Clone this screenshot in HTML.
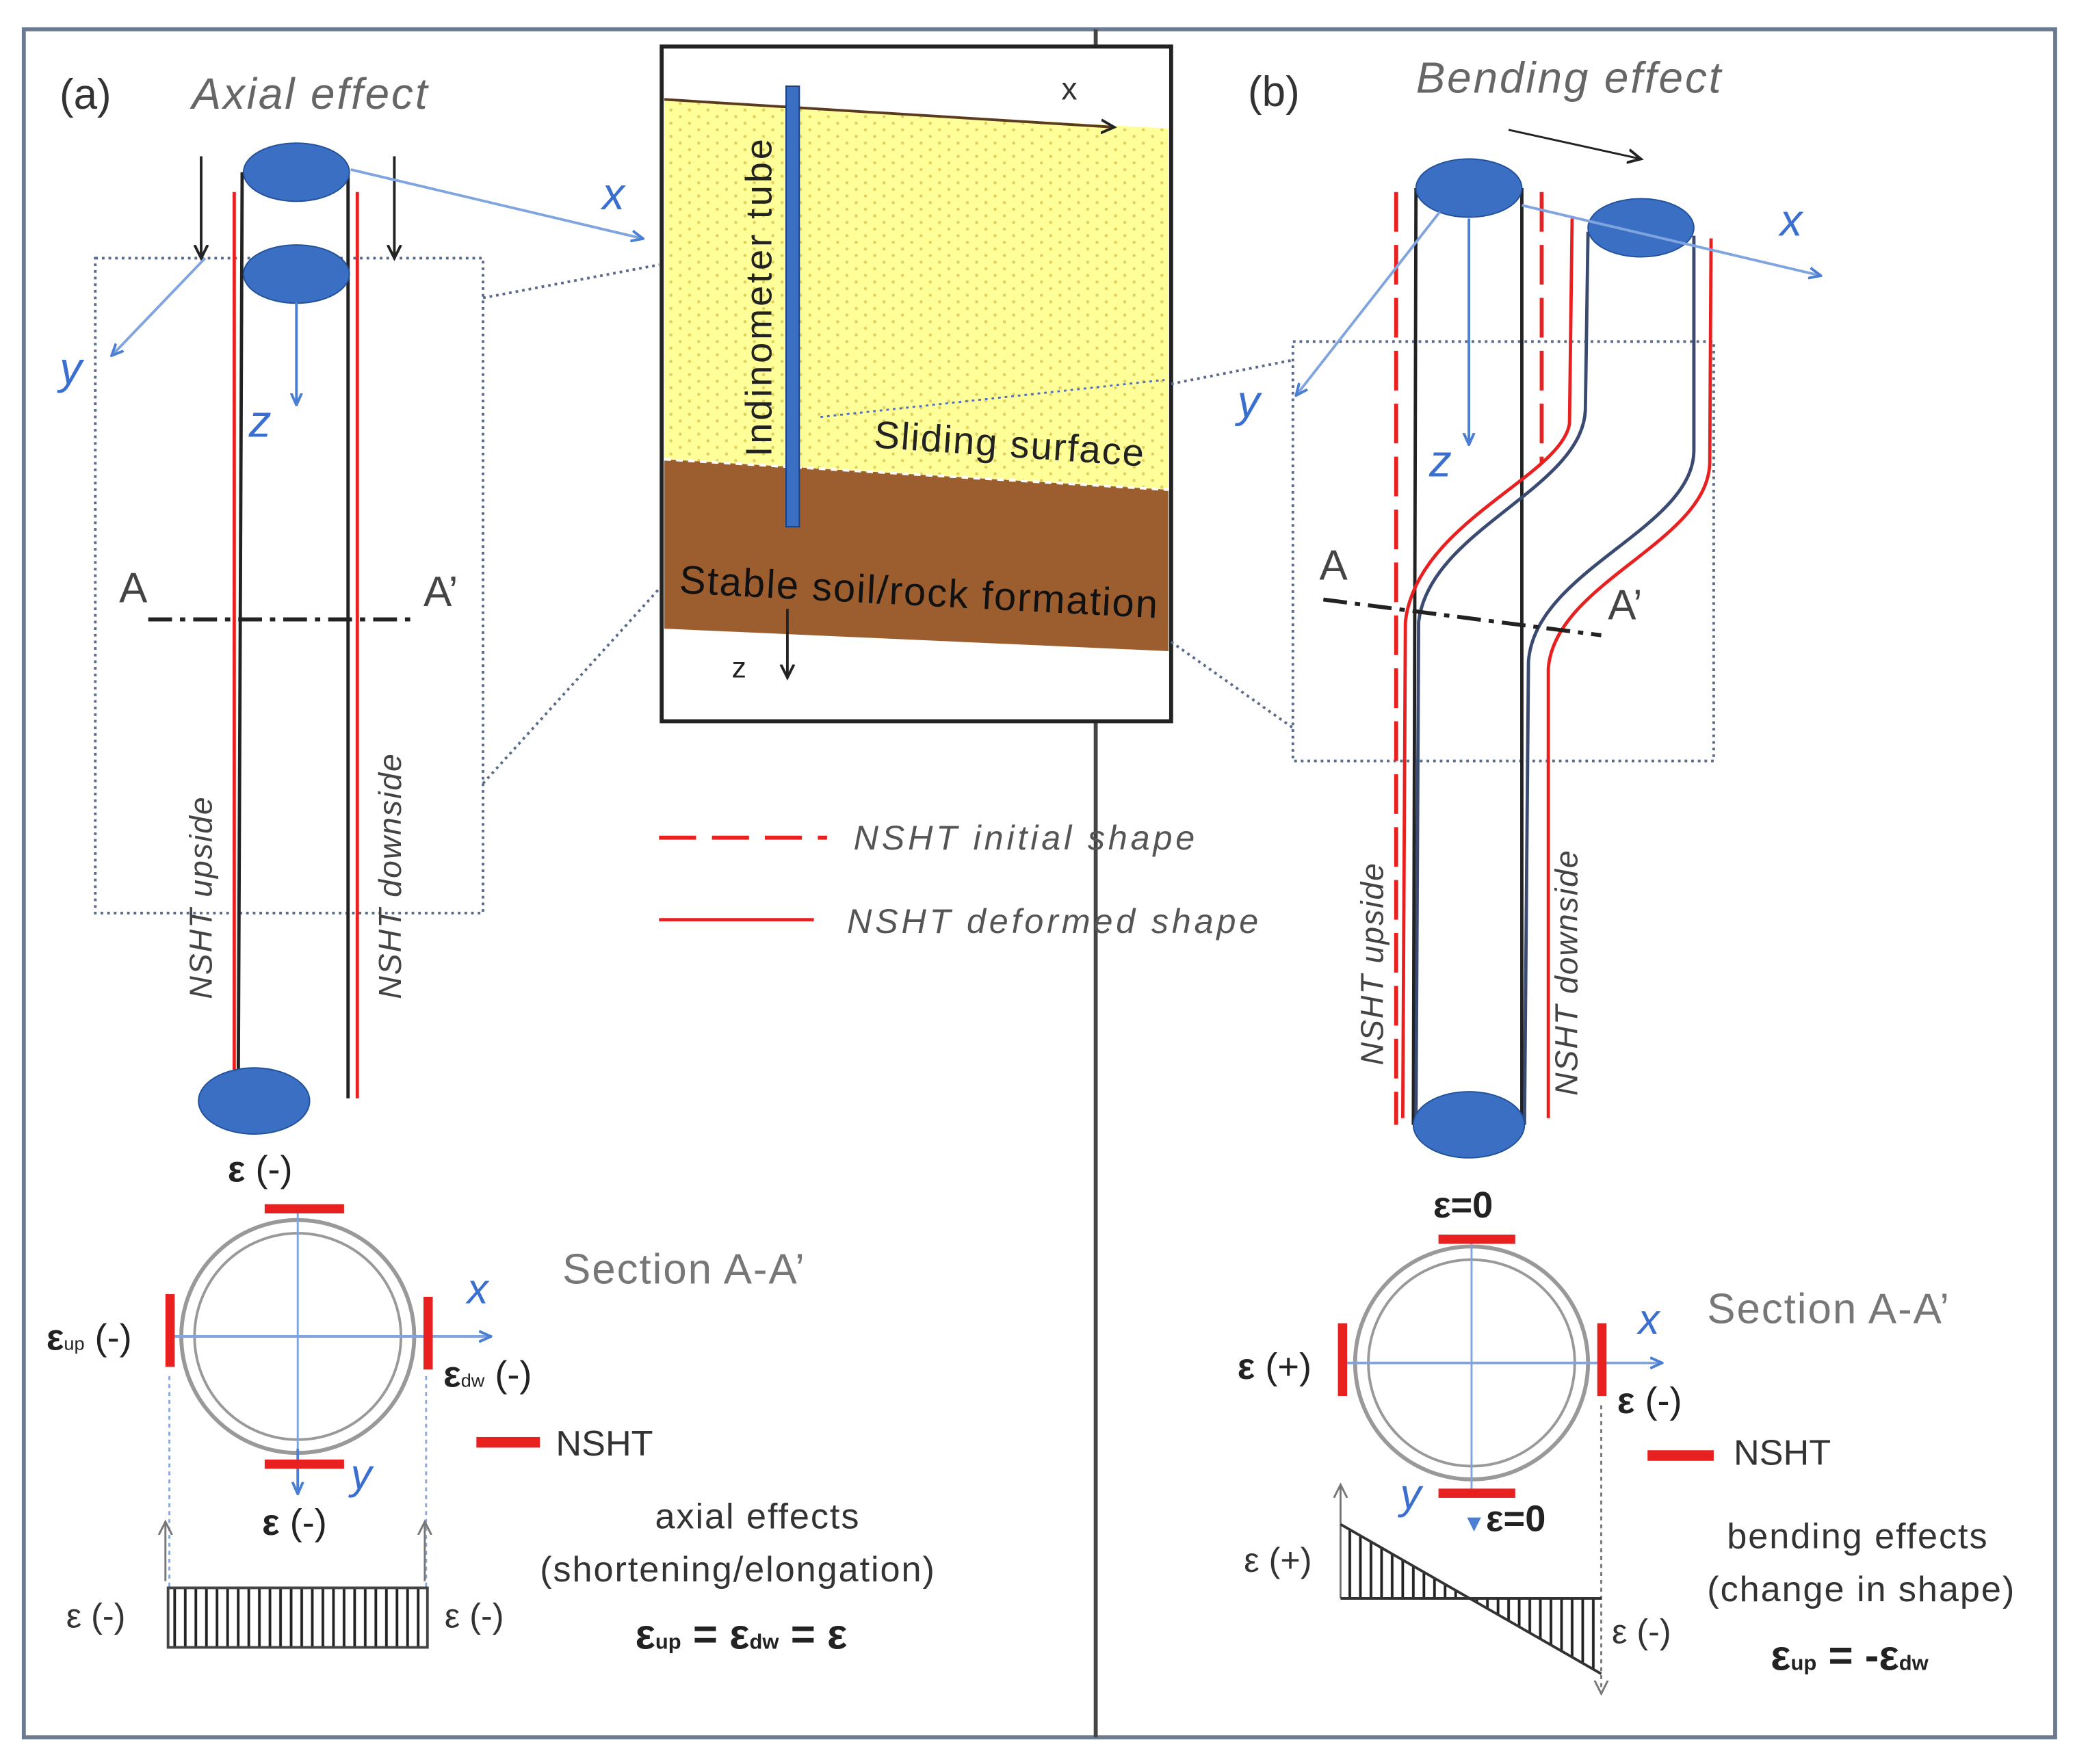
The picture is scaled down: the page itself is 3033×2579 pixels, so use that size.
<!DOCTYPE html>
<html><head><meta charset="utf-8"><style>html,body{margin:0;padding:0;background:#fff}svg{display:block}</style></head>
<body>
<svg width="3033" height="2579" viewBox="0 0 1568 1333" xmlns="http://www.w3.org/2000/svg" font-family="Liberation Sans, sans-serif">
<defs>
<pattern id="dots" width="14" height="10" patternUnits="userSpaceOnUse"><rect width="14" height="10" fill="#ffff9a"/><circle cx="3" cy="3" r="1.2" fill="#e0d060"/><circle cx="10" cy="8" r="1.2" fill="#e0d060"/></pattern>
<pattern id="vh" width="8" height="10" patternUnits="userSpaceOnUse"><line x1="4" y1="0" x2="4" y2="10" stroke="#222" stroke-width="2"/></pattern>
<marker id="ab" markerWidth="10" markerHeight="10" refX="8" refY="5" orient="auto" markerUnits="userSpaceOnUse"><path d="M0,1 L9,5 L0,9" fill="none" stroke="#4a7fd4" stroke-width="2"/></marker>
<marker id="ak" markerWidth="12" markerHeight="12" refX="10" refY="6" orient="auto" markerUnits="userSpaceOnUse"><path d="M0,1 L10,6 L0,11" fill="none" stroke="#222" stroke-width="2"/></marker>
<marker id="ag" markerWidth="12" markerHeight="12" refX="10" refY="6" orient="auto" markerUnits="userSpaceOnUse"><path d="M0,1 L10,6 L0,11" fill="none" stroke="#777" stroke-width="1.5"/></marker>
</defs>
<rect x="18" y="22" width="1535" height="1291" fill="none" stroke="#6a7a90" stroke-width="3"/>
<line x1="828" y1="22" x2="828" y2="1313" stroke="#444" stroke-width="3"/>

<!-- inset -->
<rect x="500" y="35" width="385" height="510" fill="#fff" stroke="#222" stroke-width="3"/>
<polygon points="502,75 883,97 883,370 502,347" fill="url(#dots)"/>
<polygon points="502,347 883,370 883,492 502,475" fill="#9c5e2e"/>
<polyline points="502,347 883,370" stroke="#fff" stroke-width="2" stroke-dasharray="5,4" fill="none"/>
<line x1="502" y1="75" x2="842" y2="96" stroke="#5a3a20" stroke-width="2" marker-end="url(#ak)"/>
<line x1="620" y1="315" x2="880" y2="287" stroke="#4a6fc0" stroke-width="1.5" stroke-dasharray="2,3"/>
<text x="802" y="75" font-size="24" fill="#333">x</text>
<rect x="594" y="65" width="10" height="333" fill="#3a6fc4" stroke="#1d3e7a"/>
<text transform="translate(583,345) rotate(-90)" font-size="28" letter-spacing="2" fill="#222">Indinometer tube</text>
<text transform="translate(660,338) rotate(4)" font-size="29" letter-spacing="1" fill="#222">Sliding surface</text>
<text transform="translate(513,448) rotate(3)" font-size="30" letter-spacing="1" fill="#111">Stable soil/rock formation</text>
<line x1="595" y1="460" x2="595" y2="512" stroke="#222" stroke-width="2" marker-end="url(#ak)"/>
<text x="553" y="512" font-size="22" fill="#222">z</text>

<!-- (a) -->
<text x="45" y="82" font-size="32" fill="#333">(a)</text>
<text x="145" y="82" font-size="33" font-style="italic" letter-spacing="1.5" fill="#666">Axial effect</text>
<rect x="72" y="195" width="293" height="495" fill="none" stroke="#5a6b8a" stroke-width="2" stroke-dasharray="2,3"/>
<line x1="365" y1="225" x2="498" y2="200" stroke="#5a6b8a" stroke-width="2" stroke-dasharray="2,3"/>
<line x1="365" y1="592" x2="498" y2="445" stroke="#5a6b8a" stroke-width="2" stroke-dasharray="2,3"/>
<line x1="183" y1="130" x2="180" y2="832" stroke="#222" stroke-width="2.5"/>
<line x1="263" y1="130" x2="263" y2="830" stroke="#222" stroke-width="2.5"/>
<line x1="177" y1="145" x2="177" y2="830" stroke="#e82020" stroke-width="2.5"/>
<line x1="270" y1="145" x2="270" y2="830" stroke="#e82020" stroke-width="2.5"/>
<ellipse cx="224" cy="130" rx="40" ry="22" fill="#3a6fc4" stroke="#22519a"/>
<ellipse cx="224" cy="207" rx="40" ry="22" fill="#3a6fc4" stroke="#22519a"/>
<ellipse cx="192" cy="832" rx="42" ry="25" fill="#3a6fc4" stroke="#22519a"/>
<line x1="152" y1="118" x2="152" y2="195" stroke="#222" stroke-width="2" marker-end="url(#ak)"/>
<line x1="298" y1="118" x2="298" y2="195" stroke="#222" stroke-width="2" marker-end="url(#ak)"/>
<line x1="265" y1="128" x2="485" y2="180" stroke="#7fa4e0" stroke-width="2" marker-end="url(#ab)"/>
<line x1="155" y1="195" x2="85" y2="268" stroke="#7fa4e0" stroke-width="2" marker-end="url(#ab)"/>
<line x1="224" y1="228" x2="224" y2="305" stroke="#4a7fd4" stroke-width="2" marker-end="url(#ab)"/>
<text x="455" y="158" font-size="34" font-style="italic" fill="#3a6fd0">x</text>
<text x="45" y="290" font-size="34" font-style="italic" fill="#3a6fd0">y</text>
<text x="188" y="330" font-size="34" font-style="italic" fill="#3a6fd0">z</text>
<line x1="112" y1="468" x2="310" y2="468" stroke="#222" stroke-width="3" stroke-dasharray="18,6,4,6"/>
<text x="90" y="455" font-size="32" fill="#444">A</text>
<text x="320" y="458" font-size="32" fill="#444">A’</text>
<text transform="translate(160,755) rotate(-90)" font-size="24" font-style="italic" letter-spacing="1" fill="#444">NSHT upside</text>
<text transform="translate(303,755) rotate(-90)" font-size="24" font-style="italic" letter-spacing="1" fill="#444">NSHT downside</text>

<!-- section a -->
<circle cx="225" cy="1010" r="88" fill="none" stroke="#999" stroke-width="3"/>
<circle cx="225" cy="1010" r="78" fill="none" stroke="#999" stroke-width="2"/>
<line x1="225" y1="915" x2="225" y2="1115" stroke="#7fa4e0" stroke-width="1.5"/>
<line x1="130" y1="1010" x2="370" y2="1010" stroke="#7fa4e0" stroke-width="2" marker-end="url(#ab)"/>
<line x1="225" y1="1095" x2="225" y2="1128" stroke="#4a7fd4" stroke-width="2" marker-end="url(#ab)"/>
<rect x="200" y="910" width="60" height="7" fill="#e82020"/>
<rect x="200" y="1103" width="60" height="7" fill="#e82020"/>
<rect x="125" y="978" width="7" height="55" fill="#e82020"/>
<rect x="320" y="980" width="7" height="55" fill="#e82020"/>
<text x="172" y="893" font-size="28" fill="#222" font-weight="bold">ε <tspan font-weight="normal">(-)</tspan></text>
<text x="35" y="1020" font-size="28" fill="#222" font-weight="bold">ε<tspan font-size="14" font-weight="normal">up</tspan><tspan font-weight="normal"> (-)</tspan></text>
<text x="335" y="1048" font-size="28" fill="#222" font-weight="bold">ε<tspan font-size="14" font-weight="normal">dw</tspan><tspan font-weight="normal"> (-)</tspan></text>
<text x="198" y="1160" font-size="28" fill="#222" font-weight="bold">ε <tspan font-weight="normal">(-)</tspan></text>
<text x="353" y="985" font-size="32" font-style="italic" fill="#3a6fd0">x</text>
<text x="265" y="1125" font-size="32" font-style="italic" fill="#3a6fd0">y</text>
<text x="425" y="970" font-size="32" letter-spacing="1" fill="#777">Section A-A’</text>
<rect x="360" y="1086" width="48" height="8" fill="#e82020"/>
<text x="420" y="1100" font-size="27" fill="#333">NSHT</text>
<line x1="128" y1="1040" x2="128" y2="1200" stroke="#8aa8d8" stroke-width="1.5" stroke-dasharray="3,3"/>
<line x1="322" y1="1040" x2="322" y2="1200" stroke="#8aa8d8" stroke-width="1.5" stroke-dasharray="3,3"/>
<line x1="125" y1="1195" x2="125" y2="1150" stroke="#777" stroke-width="1.5" marker-end="url(#ag)"/>
<line x1="321" y1="1195" x2="321" y2="1150" stroke="#777" stroke-width="1.5" marker-end="url(#ag)"/>
<rect x="127" y="1200" width="196" height="45" fill="url(#vh)" stroke="#444" stroke-width="2"/>
<text x="50" y="1230" font-size="26" fill="#333">ε (-)</text>
<text x="336" y="1230" font-size="26" fill="#333">ε (-)</text>
<text x="495" y="1155" font-size="27" letter-spacing="1" fill="#333">axial effects</text>
<text x="408" y="1195" font-size="27" letter-spacing="1" fill="#333">(shortening/elongation)</text>
<text x="480" y="1246" font-size="32" font-weight="bold" fill="#222">ε<tspan font-size="16">up</tspan> = ε<tspan font-size="16">dw</tspan> = ε</text>

<!-- legend -->
<line x1="498" y1="633" x2="625" y2="633" stroke="#e82020" stroke-width="3" stroke-dasharray="28,12"/>
<text x="645" y="642" font-size="26" font-style="italic" letter-spacing="2.5" fill="#555">NSHT initial shape</text>
<line x1="498" y1="695" x2="615" y2="695" stroke="#e82020" stroke-width="2.5"/>
<text x="640" y="705" font-size="26" font-style="italic" letter-spacing="2.5" fill="#555">NSHT deformed shape</text>

<!-- (b) -->
<text x="943" y="80" font-size="32" fill="#333">(b)</text>
<text x="1070" y="70" font-size="33" font-style="italic" letter-spacing="1.5" fill="#666">Bending effect</text>
<line x1="1140" y1="98" x2="1240" y2="120" stroke="#222" stroke-width="1.5" marker-end="url(#ak)"/>
<rect x="977" y="258" width="318" height="317" fill="none" stroke="#5a6b8a" stroke-width="2" stroke-dasharray="2,3"/>
<line x1="885" y1="290" x2="977" y2="272" stroke="#5a6b8a" stroke-width="2" stroke-dasharray="2,3"/>
<line x1="885" y1="485" x2="977" y2="550" stroke="#5a6b8a" stroke-width="2" stroke-dasharray="2,3"/>
<line x1="1070" y1="142" x2="1068" y2="850" stroke="#222" stroke-width="2.5"/>
<line x1="1150" y1="142" x2="1150" y2="850" stroke="#222" stroke-width="2.5"/>
<line x1="1055" y1="145" x2="1055" y2="850" stroke="#e82020" stroke-width="3" stroke-dasharray="30,10"/>
<line x1="1165" y1="145" x2="1165" y2="350" stroke="#e82020" stroke-width="3" stroke-dasharray="30,10"/>
<path d="M1200,175 L1198,310 C1195,370 1080,400 1072,470 L1070,850" fill="none" stroke="#3a4a70" stroke-width="2.5"/>
<path d="M1280,178 L1280,340 C1280,400 1160,430 1155,500 L1152,850" fill="none" stroke="#3a4a70" stroke-width="2.5"/>
<path d="M1188,165 L1186,320 C1180,360 1070,395 1062,470 L1060,845" fill="none" stroke="#e82020" stroke-width="2.5"/>
<path d="M1293,180 L1292,350 C1290,410 1175,440 1170,505 L1170,845" fill="none" stroke="#e82020" stroke-width="2.5"/>
<ellipse cx="1110" cy="142" rx="40" ry="22" fill="#3a6fc4" stroke="#22519a"/>
<ellipse cx="1240" cy="172" rx="40" ry="22" fill="#3a6fc4" stroke="#22519a"/>
<ellipse cx="1110" cy="850" rx="42" ry="25" fill="#3a6fc4" stroke="#22519a"/>
<line x1="1150" y1="155" x2="1375" y2="208" stroke="#7fa4e0" stroke-width="2" marker-end="url(#ab)"/>
<line x1="1088" y1="160" x2="980" y2="298" stroke="#7fa4e0" stroke-width="2" marker-end="url(#ab)"/>
<line x1="1110" y1="165" x2="1110" y2="335" stroke="#4a7fd4" stroke-width="2" marker-end="url(#ab)"/>
<text x="1345" y="178" font-size="34" font-style="italic" fill="#3a6fd0">x</text>
<text x="935" y="315" font-size="34" font-style="italic" fill="#3a6fd0">y</text>
<text x="1080" y="360" font-size="34" font-style="italic" fill="#3a6fd0">z</text>
<line x1="1000" y1="453" x2="1210" y2="480" stroke="#222" stroke-width="3" stroke-dasharray="18,6,4,6"/>
<text x="997" y="438" font-size="32" fill="#444">A</text>
<text x="1215" y="468" font-size="32" fill="#444">A’</text>
<text transform="translate(1045,805) rotate(-90)" font-size="24" font-style="italic" letter-spacing="1" fill="#444">NSHT upside</text>
<text transform="translate(1192,828) rotate(-90)" font-size="24" font-style="italic" letter-spacing="1" fill="#444">NSHT downside</text>

<!-- section b -->
<circle cx="1112" cy="1030" r="88" fill="none" stroke="#999" stroke-width="3"/>
<circle cx="1112" cy="1030" r="78" fill="none" stroke="#999" stroke-width="2"/>
<line x1="1112" y1="935" x2="1112" y2="1130" stroke="#7fa4e0" stroke-width="1.5"/>
<line x1="1015" y1="1030" x2="1255" y2="1030" stroke="#7fa4e0" stroke-width="2" marker-end="url(#ab)"/>
<rect x="1087" y="933" width="58" height="7" fill="#e82020"/>
<rect x="1087" y="1125" width="58" height="7" fill="#e82020"/>
<rect x="1011" y="1000" width="7" height="55" fill="#e82020"/>
<rect x="1207" y="1000" width="7" height="55" fill="#e82020"/>
<text x="1083" y="920" font-size="28" font-weight="bold" fill="#222">ε=0</text>
<text x="935" y="1042" font-size="28" fill="#222"><tspan font-weight="bold">ε</tspan> (+)</text>
<text x="1222" y="1068" font-size="28" fill="#222"><tspan font-weight="bold">ε</tspan> (-)</text>
<text x="1105" y="1157" font-size="28" font-weight="bold" fill="#222"><tspan fill="#4a7fd4" font-size="18">▼</tspan>ε=0</text>
<text x="1238" y="1008" font-size="32" font-style="italic" fill="#3a6fd0">x</text>
<text x="1058" y="1140" font-size="32" font-style="italic" fill="#3a6fd0">y</text>
<text x="1290" y="1000" font-size="32" letter-spacing="1" fill="#777">Section A-A’</text>
<rect x="1245" y="1096" width="50" height="8" fill="#e82020"/>
<text x="1310" y="1107" font-size="27" fill="#333">NSHT</text>
<line x1="1013" y1="1208" x2="1013" y2="1122" stroke="#777" stroke-width="1.5" marker-end="url(#ag)"/>
<line x1="1210" y1="1062" x2="1210" y2="1280" stroke="#777" stroke-width="1.5" stroke-dasharray="3,3" marker-end="url(#ag)"/>
<polygon points="1013,1152 1013,1208 1111,1208" fill="url(#vh)"/>
<polygon points="1111,1208 1210,1208 1210,1265" fill="url(#vh)"/>
<line x1="1013" y1="1208" x2="1210" y2="1208" stroke="#333" stroke-width="2"/>
<line x1="1013" y1="1152" x2="1210" y2="1265" stroke="#333" stroke-width="2"/>
<text x="940" y="1188" font-size="26" fill="#333">ε (+)</text>
<text x="1218" y="1242" font-size="26" fill="#333">ε (-)</text>
<text x="1305" y="1170" font-size="27" letter-spacing="1" fill="#333">bending effects</text>
<text x="1290" y="1210" font-size="27" letter-spacing="1" fill="#333">(change in shape)</text>
<text x="1338" y="1262" font-size="32" font-weight="bold" fill="#222">ε<tspan font-size="16">up</tspan> = -ε<tspan font-size="16">dw</tspan></text>
</svg>
</body></html>
